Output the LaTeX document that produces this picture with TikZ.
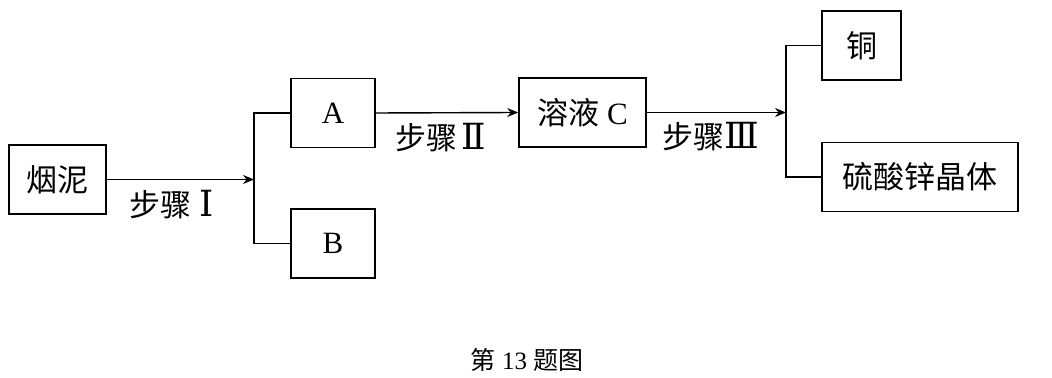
\documentclass[tikz,border=0pt]{standalone}
\usepackage{fontspec}
\setmainfont{Liberation Serif}
\newfontfamily\cjk{Noto Sans CJK SC}
\newfontfamily\romnum{DejaVu Serif}
\newcommand{\rnum}[1]{{\fontsize{18}{18}\selectfont\romnum #1}}
\usetikzlibrary{calc, arrows.meta}

\tikzset{
  box/.style={draw, line width=0.8pt, inner sep=0pt, minimum height=34.5pt,
    font=\fontsize{15.5}{18}\selectfont},
  link/.style={line width=0.7pt},
  arr/.style={link, -{Stealth[length=5.5pt, width=4.5pt]}},
  steplabel/.style={font=\fontsize{15.5}{18}\selectfont\cjk}
}

\begin{document}
\begin{tikzpicture}[x=0.5pt, y=-0.5pt]
  \useasboundingbox (0,0) rectangle (1052,378);

  % Cajas
  \node[box, minimum width=48.5pt] (yn) at (57.5,179.5) {\cjk 烟泥};
  \node[box, minimum width=42pt] (A) at (333,113) {A};
  \node[box, minimum width=42pt] (B) at (333,243.5) {B};
  \node[box, minimum width=63.5pt] (C) at (582.5,112.5) {{\cjk 溶液} C};
  \node[box, minimum width=39.5pt] (cu) at (861.5,45.5) {\cjk 铜};
  \node[box, minimum width=98pt] (zn) at (920,177) {\cjk 硫酸锌晶体};

  % Puntos de bifurcación
  \coordinate (S1) at (254,179.5);
  \coordinate (S2) at (786,112.5);

  % Paso I
  \draw[arr] (yn.east) -- (S1);
  \draw[link] (A.west) -- (A.west -| S1) -- (B.west -| S1) -- (B.west);
  \node[steplabel] (p1) at (172,205) {步骤\hspace{4pt}\rnum{Ⅰ}};

  % Paso II
  \draw[arr] (A.east) -- (C.west);
  \node[steplabel] (p2) at (441,138) {步骤\hspace{2pt}\rnum{Ⅱ}};

  % Paso III
  \draw[arr] (C.east) -- (S2);
  \draw[link] (cu.west) -- (cu.west -| S2) -- (zn.west -| S2) -- (zn.west);
  \node[steplabel] (p3) at (711,137) {步骤\rnum{Ⅲ}};

  % Pie de figura
  \node[font=\fontsize{12.5}{15}\selectfont] (cap) at (527,360) {{\cjk 第} 13 {\cjk 题图}};
\end{tikzpicture}
\end{document}
